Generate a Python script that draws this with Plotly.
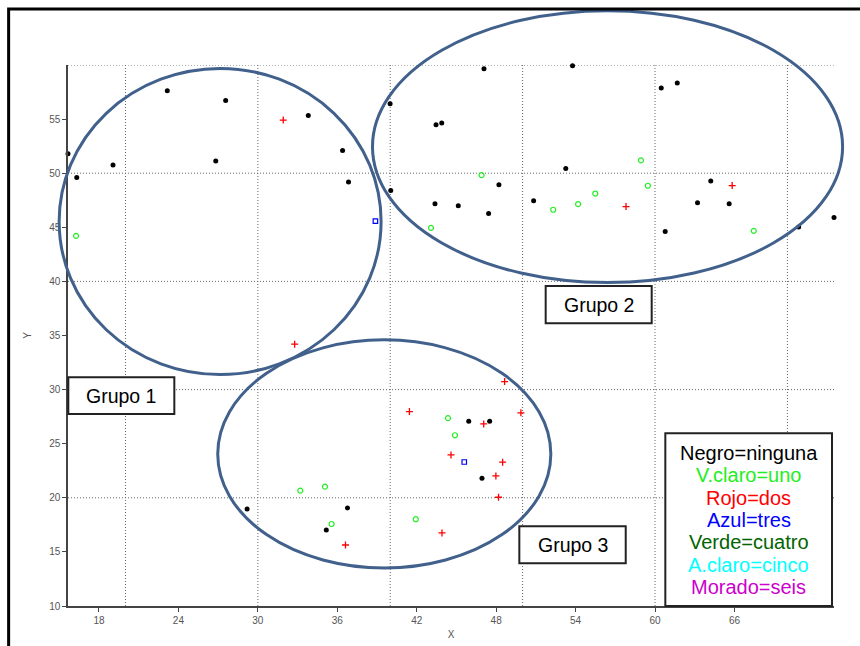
import plotly.graph_objects as go

# --- point data: one pair of lists per category ---
ninguna_x = [15.66, 16.32, 19.06, 23.16, 27.57, 26.82, 33.81, 36.40, 36.85, 39.99, 40.04,
             47.08, 53.77, 43.46, 43.89, 60.47, 61.68, 53.26, 48.21, 64.21, 43.38, 45.14,
             47.43, 50.83, 63.21, 65.60, 60.77, 70.85, 73.52, 29.19, 36.77, 35.17, 45.93,
             47.51, 46.93]
ninguna_y = [51.79, 49.60, 50.75, 57.62, 56.72, 51.12, 55.34, 52.10, 49.18, 56.42, 48.40,
             59.65, 59.93, 54.48, 54.63, 57.87, 58.33, 50.44, 48.93, 49.27, 47.17, 46.99,
             46.27, 47.45, 47.26, 47.17, 44.61, 45.02, 45.91, 18.97, 19.06, 17.03, 27.08,
             27.08, 21.81]

uno_x = [16.27, 43.08, 58.94, 46.90, 59.46, 55.49, 52.31, 54.19, 67.46, 33.21, 35.07,
         35.57, 41.93, 44.36, 44.89]
uno_y = [44.21, 44.95, 51.18, 49.82, 48.84, 48.12, 46.62, 47.14, 44.67, 20.66, 21.03,
         17.58, 18.02, 27.36, 25.78]

dos_x = [31.92, 65.83, 57.81, 32.78, 41.45, 48.64, 49.87, 47.06, 44.59, 48.49, 47.98,
         48.18, 43.91, 36.62]
dos_y = [54.91, 48.86, 46.92, 34.20, 27.97, 30.74, 27.85, 26.83, 23.96, 23.29, 22.02,
         20.05, 16.75, 15.64]

tres_x = [38.88, 45.59]
tres_y = [45.57, 23.31]

x_ticks = [18, 24, 30, 36, 42, 48, 54, 60, 66]
y_ticks = [10, 15, 20, 25, 30, 35, 40, 45, 50, 55]
x_range = [15.66, 73.52]
y_range = [10, 60]

# group outlines (data-unit bounding boxes)
grupos = [
    ("Grupo 1", 14.99, 39.31, 31.39, 59.68),
    ("Grupo 2", 38.66, 74.17, 39.89, 65.02),
    ("Grupo 3", 26.97, 52.13, 13.51, 34.60),
]

leyenda = [
    ("Negro=ninguna", "#000000"),
    ("V.claro=uno", "#22ee22"),
    ("Rojo=dos", "#ff0000"),
    ("Azul=tres", "#0000ff"),
    ("Verde=cuatro", "#006400"),
    ("A.claro=cinco", "#00ffff"),
    ("Morado=seis", "#cc00cc"),
]

FONT = "Arial, Liberation Sans, sans-serif"

fig = go.Figure()
fig.add_trace(go.Scatter(x=ninguna_x, y=ninguna_y, mode="markers", cliponaxis=False,
                         marker=dict(symbol="circle", size=5, color="#000000")))
fig.add_trace(go.Scatter(x=uno_x, y=uno_y, mode="markers", cliponaxis=False,
                         marker=dict(symbol="circle-open", size=5, color="#22ee22",
                                     line=dict(width=1.2))))
fig.add_trace(go.Scatter(x=dos_x, y=dos_y, mode="markers", cliponaxis=False,
                         marker=dict(symbol="cross-thin", size=5, color="#ff0000",
                                     line=dict(width=1.3, color="#ff0000"))))
fig.add_trace(go.Scatter(x=tres_x, y=tres_y, mode="markers", cliponaxis=False,
                         marker=dict(symbol="square-open", size=4.5, color="#0000ff",
                                     line=dict(width=1.2))))

shapes = []
# dotted grid every 10 units
grid_line = dict(color="#666666", width=1, dash="1px,2px")
for gx in range(20, 80, 10):
    shapes.append(dict(type="line", xref="x", yref="y", x0=gx, x1=gx, y0=y_range[0],
                       y1=y_range[1], layer="below", line=grid_line))
for gy in range(20, 70, 10):
    shapes.append(dict(type="line", xref="x", yref="y", x0=x_range[0], x1=x_range[1],
                       y0=gy, y1=gy, layer="below", line=grid_line))


def px_(v):
    return (v - x_range[0]) / (x_range[1] - x_range[0])


def py_(v):
    return (v - y_range[0]) / (y_range[1] - y_range[0])


# ellipses around each group (paper refs so they may extend past the axes)
for _, gx0, gx1, gy0, gy1 in grupos:
    shapes.append(dict(type="circle", xref="paper", yref="paper",
                       x0=px_(gx0), x1=px_(gx1), y0=py_(gy0), y1=py_(gy1),
                       line=dict(color="#41618c", width=3)))

# label boxes
label_boxes = [
    (0.0004, 0.1388, 0.3549, 0.4227),
    (0.6236, 0.7620, 0.5226, 0.5915),
    (0.5892, 0.7281, 0.0789, 0.1473),
]
annotations = []
for (name, *_), (bx0, bx1, by0, by1) in zip(grupos, label_boxes):
    shapes.append(dict(type="rect", xref="paper", yref="paper", x0=bx0, x1=bx1,
                       y0=by0, y1=by1, fillcolor="white",
                       line=dict(color="#222222", width=2)))
    annotations.append(dict(text=name, xref="paper", yref="paper",
                            x=(bx0 + bx1) / 2, y=(by0 + by1) / 2, showarrow=False,
                            xanchor="center", yanchor="middle",
                            font=dict(family=FONT, size=19.5, color="#000000")))

# colour key
shapes.append(dict(type="rect", xref="paper", yref="paper", x0=0.7798, x1=0.9974,
                   y0=0.0, y1=0.3192, fillcolor="white",
                   line=dict(color="#222222", width=2)))
key_y = [0.2834, 0.2421, 0.2002, 0.1590, 0.1183, 0.0763, 0.0351]
for (txt, col), ky in zip(leyenda, key_y):
    annotations.append(dict(text=txt, xref="paper", yref="paper", x=0.889, y=ky,
                            showarrow=False, xanchor="center", yanchor="middle",
                            font=dict(family=FONT, size=20, color=col)))

# outer frame
shapes.append(dict(type="rect", xref="paper", yref="paper", x0=-0.0775, x1=1.2,
                   y0=-0.3, y1=1.1035, line=dict(color="#000000", width=3)))

axis_common = dict(
    showgrid=False, zeroline=False, showline=True, linecolor="#444444", linewidth=1.5,
    ticks="outside", ticklen=4, tickwidth=1, tickcolor="#444444", automargin=False,
    tickfont=dict(family=FONT, size=10, color="#555555"),
)

fig.update_layout(
    width=860, height=646,
    margin=dict(l=68, r=26, t=65, b=40, autoexpand=False),
    paper_bgcolor="white", plot_bgcolor="white",
    showlegend=False,
    shapes=shapes,
    annotations=annotations,
    xaxis=dict(range=x_range, tickvals=x_ticks, **axis_common,
               title=dict(text="X", standoff=6,
                          font=dict(family=FONT, size=10, color="#555555"))),
    yaxis=dict(range=y_range, tickvals=y_ticks, **axis_common,
               title=dict(text="Y", standoff=16,
                          font=dict(family=FONT, size=10, color="#555555"))),
)

fig.write_html("out.html")
